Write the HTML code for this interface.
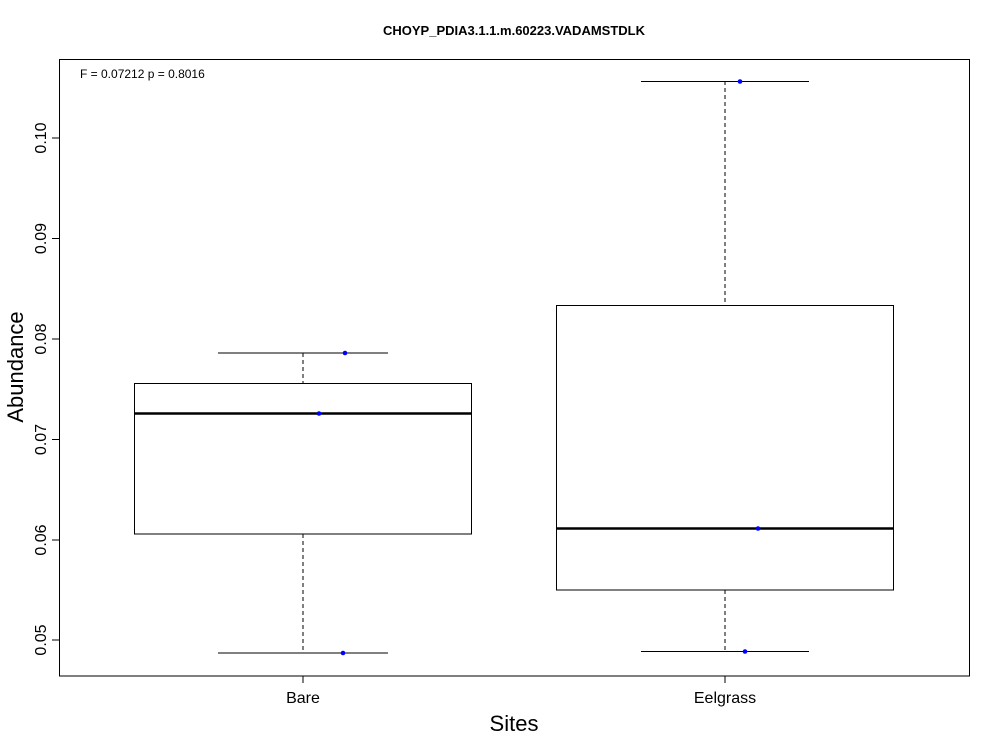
<!DOCTYPE html>
<html><head><meta charset="utf-8"><style>
html,body{margin:0;padding:0;background:#fff;}
svg{display:block;font-family:"Liberation Sans",Arial,sans-serif;}
</style></head><body>
<svg width="1000" height="750" viewBox="0 0 1000 750" xmlns="http://www.w3.org/2000/svg">
<rect width="1000" height="750" fill="#fff"/>
<text x="514" y="35" font-size="13" font-weight="bold" text-anchor="middle">CHOYP_PDIA3.1.1.m.60223.VADAMSTDLK</text>
<rect x="59.5" y="59.5" width="910" height="616.5" fill="none" stroke="#000" stroke-width="1"/>
<text x="80" y="78" font-size="12">F = 0.07212 p = 0.8016</text>
<g stroke="#000" stroke-width="1">
<line x1="52" y1="640" x2="59" y2="640"/>
<line x1="52" y1="540" x2="59" y2="540"/>
<line x1="52" y1="439.5" x2="59" y2="439.5"/>
<line x1="52" y1="339" x2="59" y2="339"/>
<line x1="52" y1="238.5" x2="59" y2="238.5"/>
<line x1="52" y1="138" x2="59" y2="138"/>
<line x1="303" y1="676" x2="303" y2="683"/>
<line x1="725" y1="676" x2="725" y2="683"/>
</g>
<g font-size="16" text-anchor="middle">
<text transform="translate(46,640) rotate(-90)">0.05</text>
<text transform="translate(46,540) rotate(-90)">0.06</text>
<text transform="translate(46,439.5) rotate(-90)">0.07</text>
<text transform="translate(46,339) rotate(-90)">0.08</text>
<text transform="translate(46,238.5) rotate(-90)">0.09</text>
<text transform="translate(46,138) rotate(-90)">0.10</text>
<text x="303" y="703">Bare</text>
<text x="725" y="703">Eelgrass</text>
</g>
<text x="514" y="731" font-size="22" text-anchor="middle">Sites</text>
<text transform="translate(23,367) rotate(-90)" font-size="22" text-anchor="middle">Abundance</text>
<g stroke="#000" fill="none">
<line x1="303" y1="353" x2="303" y2="383" stroke-dasharray="4,3"/>
<line x1="303" y1="534" x2="303" y2="653" stroke-dasharray="4,3"/>
<line x1="218" y1="353" x2="388" y2="353"/>
<line x1="218" y1="653" x2="388" y2="653"/>
<rect x="134.5" y="383.5" width="337" height="150.5"/>
<line x1="134" y1="413.5" x2="472" y2="413.5" stroke-width="2.5"/>
<line x1="725" y1="81" x2="725" y2="305" stroke-dasharray="4,3"/>
<line x1="725" y1="590" x2="725" y2="651" stroke-dasharray="4,3"/>
<line x1="641" y1="81.5" x2="809" y2="81.5"/>
<line x1="641" y1="651.5" x2="809" y2="651.5"/>
<rect x="556.5" y="305.5" width="337" height="284.5"/>
<line x1="556" y1="528.5" x2="894" y2="528.5" stroke-width="2.5"/>
</g>
<g fill="#0000ff">
<circle cx="345" cy="353" r="2.3"/>
<circle cx="319" cy="413.5" r="2.3"/>
<circle cx="343" cy="653" r="2.3"/>
<circle cx="740" cy="81.5" r="2.3"/>
<circle cx="758" cy="528.5" r="2.3"/>
<circle cx="745" cy="651.5" r="2.3"/>
</g>
</svg>
</body></html>
